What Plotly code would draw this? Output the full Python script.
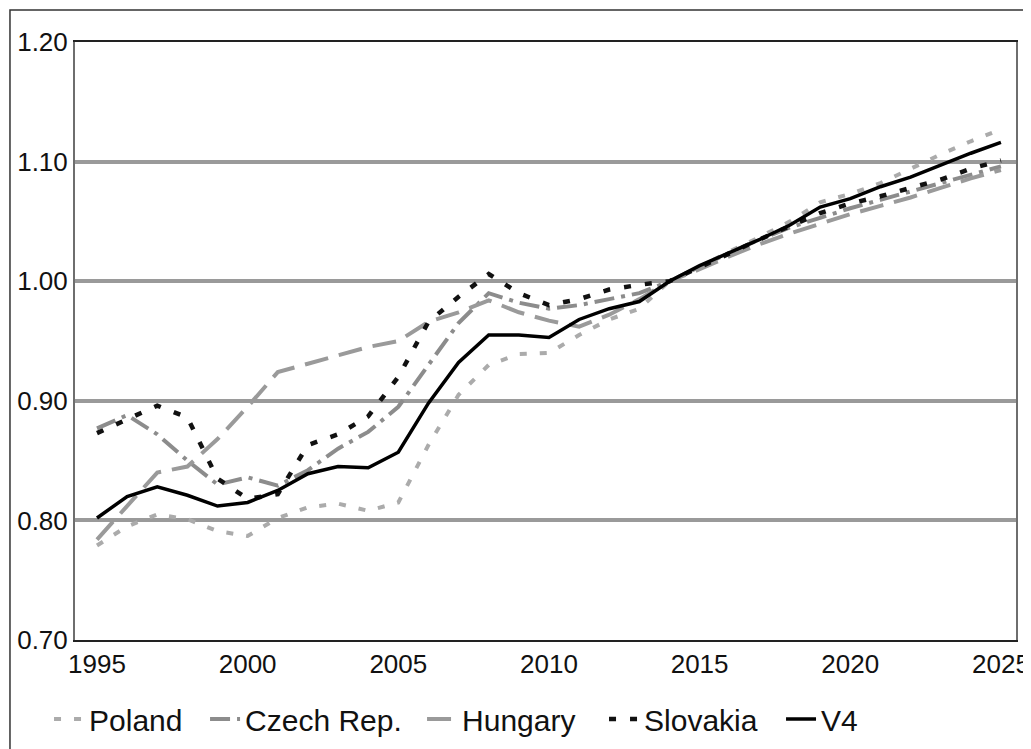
import plotly.graph_objects as go

years = list(range(1995, 2026))
poland = [0.779, 0.795, 0.805, 0.801, 0.791, 0.787, 0.802, 0.811, 0.814, 0.808, 0.815,
          0.863, 0.905, 0.930, 0.939, 0.940, 0.955, 0.968, 0.977, 1.000, 1.012,
          1.025, 1.037, 1.050, 1.066, 1.073, 1.082, 1.094, 1.106, 1.117, 1.127]
czech = [0.877, 0.888, 0.872, 0.850, 0.830, 0.836, 0.829, 0.842, 0.860, 0.874, 0.895,
         0.930, 0.965, 0.990, 0.982, 0.977, 0.980, 0.985, 0.990, 1.000, 1.012,
         1.024, 1.035, 1.045, 1.053, 1.061, 1.068, 1.075, 1.082, 1.089, 1.096]
hungary = [0.784, 0.812, 0.840, 0.845, 0.868, 0.895, 0.924, 0.931, 0.938, 0.945, 0.950,
           0.966, 0.974, 0.984, 0.974, 0.967, 0.962, 0.972, 0.985, 1.000, 1.010,
           1.021, 1.031, 1.040, 1.048, 1.056, 1.063, 1.070, 1.078, 1.086, 1.093]
slovakia = [0.873, 0.884, 0.896, 0.886, 0.835, 0.818, 0.822, 0.863, 0.872, 0.887, 0.920,
            0.966, 0.987, 1.006, 0.990, 0.980, 0.985, 0.993, 0.997, 1.000, 1.012,
            1.024, 1.035, 1.046, 1.057, 1.065, 1.071, 1.078, 1.085, 1.094, 1.101]
v4 = [0.802, 0.820, 0.828, 0.821, 0.812, 0.815, 0.825, 0.839, 0.845, 0.844, 0.857,
      0.898, 0.932, 0.955, 0.955, 0.953, 0.968, 0.977, 0.983, 1.000, 1.013,
      1.024, 1.035, 1.047, 1.062, 1.069, 1.079, 1.087, 1.097, 1.107, 1.116]

y_ticks = [0.70, 0.80, 0.90, 1.00, 1.10, 1.20]
x_ticks = [1995, 2000, 2005, 2010, 2015, 2020, 2025]

FONT = "Liberation Sans, Arial, sans-serif"

series = [
    ("Poland", poland, "#ababab", 4, "7px,13px"),
    ("Czech Rep.", czech, "#8c8c8c", 4, "20px,7px,4px,7px"),
    ("Hungary", hungary, "#9a9a9a", 4, "24px,11px"),
    ("Slovakia", slovakia, "#111111", 4.5, "7px,14px"),
    ("V4", v4, "#000000", 3.5, "solid"),
]
legend_x = [-0.0276, 0.1382, 0.3688, 0.5622, 0.7503]
legend_names = ["legend", "legend2", "legend3", "legend4", "legend5"]

fig = go.Figure()
for (name, vals, color, width, dash), lg in zip(series, legend_names):
    fig.add_trace(go.Scatter(x=years, y=vals, name=name, mode="lines", legend=lg,
                             line=dict(color=color, width=width, dash=dash)))

legend_common = dict(orientation="h", xanchor="left", y=-0.1321, yanchor="middle",
                     font=dict(size=30, family=FONT, color="#111111"),
                     bgcolor="rgba(0,0,0,0)", borderwidth=0)
legends = {lg: dict(x=lx, **legend_common) for lg, lx in zip(legend_names, legend_x)}

fig.update_layout(
    width=1023, height=741,
    margin=dict(l=67, r=15, t=34, b=109, autoexpand=False),
    paper_bgcolor="white", plot_bgcolor="white",
    font=dict(family=FONT, color="#111111"),
    showlegend=True,
    **legends,
    xaxis=dict(range=[1994.27, 2025.5], tickvals=x_ticks, showgrid=False,
               zeroline=False, showline=True, linecolor="#222222", linewidth=1.5,
               mirror=True, ticks="", automargin=False,
               tickfont=dict(size=26, family=FONT)),
    yaxis=dict(range=[0.70, 1.20], tickvals=y_ticks, tickformat=".2f",
               showgrid=True, gridcolor="#9a9a9a", gridwidth=4, zeroline=False,
               showline=True, linecolor="#6e6e6e", linewidth=2, mirror=True,
               ticks="", automargin=False, ticklabelstandoff=0,
               tickfont=dict(size=26, family=FONT)),
    shapes=[dict(type="rect", xref="paper", yref="paper",
                 x0=-0.0691, x1=1.0128, y0=-0.25, y1=1.0535,
                 line=dict(color="#333333", width=1.5), layer="below")],
)

fig.write_html("out.html")
